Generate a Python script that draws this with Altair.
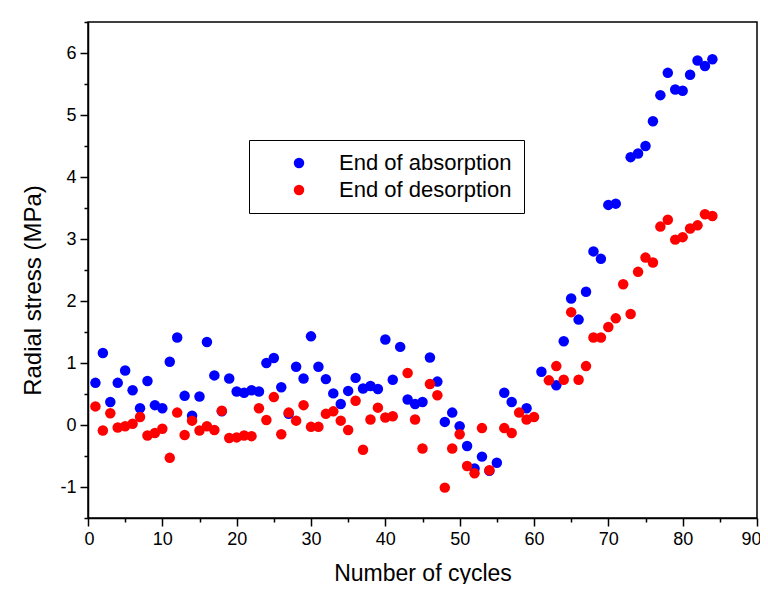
import altair as alt
import pandas as pd

# End of absorption (blue)
abs_cycles = [1, 2, 3, 4, 5, 6, 7, 8, 9, 10, 11, 12, 13, 14, 15, 16, 17, 18, 19, 20,
              21, 22, 23, 24, 25, 26, 27, 28, 29, 30, 31, 32, 33, 34, 35, 36, 37, 38, 39, 40,
              41, 42, 43, 44, 45, 46, 47, 48, 49, 50, 51, 52, 53, 54, 55, 56, 57, 59, 61, 63,
              64, 65, 66, 67, 68, 69, 70, 71, 73, 74, 75, 76, 77, 78, 79, 80, 81, 82, 83, 84]
abs_stress = [0.68, 1.16, 0.37, 0.68, 0.88, 0.56, 0.27, 0.71, 0.32, 0.27, 1.02, 1.41, 0.47, 0.15, 0.46, 1.34, 0.80, 0.22, 0.75, 0.54,
              0.52, 0.56, 0.54, 1.00, 1.08, 0.61, 0.18, 0.94, 0.75, 1.43, 0.94, 0.74, 0.51, 0.34, 0.55, 0.76, 0.59, 0.63, 0.58, 1.38,
              0.73, 1.26, 0.41, 0.34, 0.37, 1.09, 0.70, 0.05, 0.20, -0.02, -0.34, -0.70, -0.51, -0.74, -0.61, 0.52, 0.37, 0.27, 0.86, 0.64,
              1.35, 2.04, 1.70, 2.15, 2.80, 2.68, 3.55, 3.57, 4.32, 4.38, 4.50, 4.90, 5.32, 5.68, 5.41, 5.39, 5.65, 5.88, 5.79, 5.90]

# End of desorption (red)
des_cycles = [1, 2, 3, 4, 5, 6, 7, 8, 9, 10, 11, 12, 13, 14, 15, 16, 17, 18, 19, 20,
              21, 22, 23, 24, 25, 26, 27, 28, 29, 30, 31, 32, 33, 34, 35, 36, 37, 38, 39, 40,
              41, 43, 44, 45, 46, 47, 48, 49, 50, 51, 52, 53, 54, 56, 57, 58, 59, 60, 62, 63,
              64, 65, 66, 67, 68, 69, 70, 71, 72, 73, 74, 75, 76, 77, 78, 79, 80, 81, 82, 83, 84]
des_stress = [0.30, -0.09, 0.19, -0.04, -0.02, 0.02, 0.13, -0.17, -0.13, -0.06, -0.53, 0.20, -0.16, 0.07, -0.09, -0.02, -0.08, 0.23, -0.21, -0.20,
              -0.17, -0.18, 0.27, 0.08, 0.45, -0.15, 0.20, 0.07, 0.32, -0.03, -0.03, 0.18, 0.22, 0.07, -0.08, 0.39, -0.40, 0.09, 0.28, 0.12,
              0.14, 0.84, 0.09, -0.38, 0.66, 0.48, -1.01, -0.38, -0.15, -0.66, -0.78, -0.05, -0.73, -0.05, -0.13, 0.20, 0.09, 0.13, 0.72, 0.95,
              0.73, 1.82, 0.73, 0.95, 1.41, 1.41, 1.58, 1.72, 2.27, 1.79, 2.47, 2.70, 2.62, 3.20, 3.31, 2.99, 3.03, 3.17, 3.22, 3.40, 3.37]

series_names = ["End of absorption", "End of desorption"]
series_colors = ["#0000ff", "#ff0000"]

x_ticks = list(range(0, 91, 5))
y_ticks = [v / 2 for v in range(-3, 14)]

df = pd.concat([
    pd.DataFrame({"cycle": abs_cycles, "stress": abs_stress, "series": series_names[0]}),
    pd.DataFrame({"cycle": des_cycles, "stress": des_stress, "series": series_names[1]}),
], ignore_index=True)

FONT = "Liberation Sans"

chart = alt.Chart(df).mark_circle(size=110, opacity=1).encode(
    x=alt.X("cycle:Q",
            scale=alt.Scale(domain=[0, 90], nice=False, zero=False),
            axis=alt.Axis(values=x_ticks,
                          labelExpr="datum.value % 10 == 0 ? '' + datum.value : ''",
                          tickSize={"condition": {"test": "datum.value % 10 == 0", "value": 8}, "value": 4},
                          title="Number of cycles", grid=False,
                          labelFontSize=18, titleFontSize=23, labelPadding=4,
                          titleY=62, titleBaseline="alphabetic",
                          labelFlush=True, labelFlushOffset=4)),
    y=alt.Y("stress:Q",
            scale=alt.Scale(domain=[-1.5, 6.5], nice=False, zero=False),
            axis=alt.Axis(values=y_ticks,
                          labelExpr="datum.value % 1 == 0 ? '' + datum.value : ''",
                          tickSize={"condition": {"test": "datum.value % 1 == 0", "value": 8}, "value": 4},
                          title="Radial stress (MPa)", grid=False,
                          labelFontSize=18, titleFontSize=24, labelPadding=4,
                          titleX=-55, titleY=268, titleBaseline="middle", titleAlign="center",
                          labelFlush=False)),
    color=alt.Color("series:N",
                    scale=alt.Scale(domain=series_names, range=series_colors),
                    legend=alt.Legend(title=None, orient="none", legendX=161, legendY=118,
                                      strokeColor="black", fillColor="white", padding=12,
                                      symbolType="circle", symbolSize=110, symbolOffset=27,
                                      labelOffset=29, labelFontSize=22, labelFont=FONT,
                                      labelLimit=400, labelColor="black", rowPadding=5,
                                      symbolStrokeWidth=0)),
).properties(
    width=669, height=496,
    autosize=alt.AutoSizeParams(type="none"),
    padding={"left": 80, "top": 14, "right": 3, "bottom": 66},
).configure_view(
    stroke="black", strokeWidth=1.5
).configure_axis(
    domainColor="black", domainWidth=1.5, tickColor="black", tickWidth=1.5,
    labelColor="black", titleColor="black", labelFont=FONT, titleFont=FONT,
    titleFontWeight="normal"
)

chart.save("out.html", embed_options={"renderer": "svg", "actions": False})
